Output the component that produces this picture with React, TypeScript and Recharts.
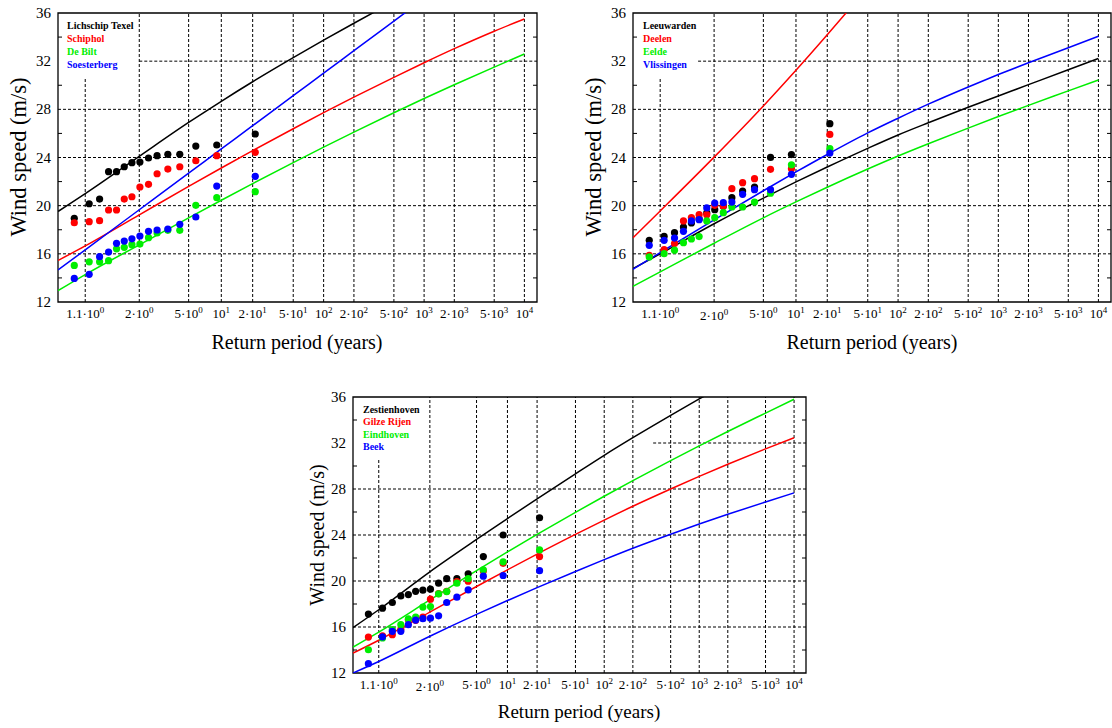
import React from "react";
import {
  ComposedChart,
  Line,
  Scatter,
  XAxis,
  YAxis,
  ReferenceLine,
  ReferenceArea,
} from "recharts";

// return periods (years) of the ranked annual maxima
const obsPeriods = [1.048, 1.126, 1.217, 1.326, 1.451, 1.602, 1.786, 2.02, 2.33, 2.71, 3.31, 4.18, 5.8, 9.06, 21.2];
const fitPeriods = [1.0115, 1.1, 2, 5, 10, 20, 50, 100, 200, 500, 1000, 2000, 5000, 10000];

const tickPeriods = [1.1, 2, 5, 10, 20, 50, 100, 200, 500, 1000, 2000, 5000, 10000];
const tickBase = ["1.1·10", "2·10", "5·10", "10", "2·10", "5·10", "10", "2·10", "5·10", "10", "2·10", "5·10", "10"];
const tickExp = ["0", "0", "0", "1", "1", "1", "2", "2", "2", "3", "3", "3", "4"];
const speedTicks = [12, 14, 16, 18, 20, 22, 24, 26, 28, 30, 32, 34, 36];
const gridSpeeds = [16, 20, 24, 28, 32];

const colors = ["#000000", "#ff0000", "#00ee00", "#0000ff"];

// top left panel
const names1 = ["Lichschip Texel", "Schiphol", "De Bilt", "Soesterberg"];
const texelObs = [18.95, 20.16, 20.55, 22.82, 22.82, 23.23, 23.57, 23.62, 23.96, 24.15, 24.26, 24.26, 24.95, 25.04, 25.95];
const schipholObs = [18.58, 18.67, 18.75, 19.64, 19.64, 20.55, 20.74, 21.55, 21.77, 22.65, 23.04, 23.23, 23.73, 24.15, 24.43];
const deBiltObs = [15.04, 15.34, 15.34, 15.43, 16.42, 16.54, 16.76, 16.81, 17.34, 17.73, 17.95, 17.95, 20.03, 20.66, 21.16];
const soesterbergObs = [13.96, 14.3, 15.76, 16.15, 16.87, 17.06, 17.25, 17.48, 17.87, 17.98, 18.06, 18.45, 19.06, 21.63, 22.44];
const texelFit = [19.52, 21.0, 24.1, 26.91, 28.67, 30.29, 32.29, 33.74, 35.15, 36.97, 38.32, 39.64, 41.33, 42.58];
const schipholFit = [15.45, 16.66, 19.24, 21.6, 23.13, 24.57, 26.39, 27.72, 29.01, 30.66, 31.87, 33.04, 34.49, 35.5];
const deBiltFit = [12.95, 14.28, 16.75, 18.99, 20.45, 21.83, 23.58, 24.86, 26.11, 27.72, 28.9, 30.04, 31.51, 32.6];
const soesterbergFit = [14.66, 16.33, 19.66, 22.7, 24.71, 26.64, 29.13, 31.01, 32.87, 35.33, 37.19, 39.05, 41.5, 43.36];

// top right panel
const names2 = ["Leeuwarden", "Deelen", "Eelde", "Vlissingen"];
const leeuwardenObs = [17.12, 17.45, 17.76, 18.23, 18.56, 18.9, 19.4, 19.67, 19.95, 20.66, 21.22, 21.55, 24.01, 24.24, 26.81];
const deelenObs = [15.88, 16.35, 16.85, 18.73, 19.0, 19.25, 19.25, 20.03, 19.97, 21.41, 21.91, 22.24, 23.02, 23.07, 25.92];
const eeldeObs = [15.74, 16.01, 16.3, 16.93, 17.23, 17.43, 18.73, 19.0, 19.42, 19.89, 19.89, 20.3, 21.03, 23.4, 24.73];
const vlissingenObs = [16.71, 17.12, 17.31, 17.87, 18.73, 18.84, 19.81, 20.22, 20.25, 20.3, 20.94, 21.33, 21.33, 22.6, 24.37];
const leeuwardenFit = [14.77, 16.0, 18.5, 20.63, 21.97, 23.21, 24.76, 25.87, 26.88, 28.17, 29.11, 30.05, 31.29, 32.22];
const deelenFit = [17.34, 19.56, 24.03, 28.28, 31.24, 34.19, 38.1, 41.1, 44.1, 48.1, 51.2, 54.3, 58.4, 61.5];
const eeldeFit = [13.3, 14.5, 16.88, 18.99, 20.31, 21.53, 23.04, 24.12, 25.14, 26.44, 27.4, 28.33, 29.53, 30.44];
const vlissingenFit = [14.72, 16.1, 18.82, 21.24, 22.8, 24.25, 26.04, 27.26, 28.43, 29.86, 30.89, 31.87, 33.11, 34.07];

// bottom panel
const names3 = ["Zestienhoven", "Gilze Rijen", "Eindhoven", "Beek"];
const zestienhovenObs = [17.12, 17.64, 18.13, 18.7, 18.82, 19.1, 19.2, 19.29, 19.81, 20.21, 20.21, 20.62, 22.12, 24.0, 25.5];
const gilzeRijenObs = [15.12, 15.24, 15.33, 15.8, 16.62, 16.58, 16.87, 18.42, 18.9, 19.1, 19.95, 19.98, 20.88, 21.54, 22.12];
const eindhovenObs = [14.02, 15.05, 15.77, 16.2, 16.7, 16.87, 17.73, 17.78, 18.88, 19.08, 19.81, 20.2, 20.97, 21.67, 22.7];
const beekObs = [12.81, 15.15, 15.62, 15.62, 16.2, 16.6, 16.72, 16.77, 16.97, 18.13, 18.59, 19.22, 20.42, 20.48, 20.9];
const zestienhovenFit = [15.95, 17.5, 20.8, 23.61, 25.43, 27.14, 29.32, 30.93, 32.46, 34.41, 35.83, 37.22, 39.01, 40.34];
const gilzeRijenFit = [13.73, 14.85, 17.3, 19.52, 20.97, 22.34, 24.05, 25.3, 26.5, 28.0, 29.1, 30.15, 31.49, 32.46];
const eindhovenFit = [14.25, 15.55, 18.35, 20.9, 22.53, 24.05, 25.97, 27.37, 28.73, 30.47, 31.75, 33.0, 34.6, 35.8];
const beekFit = [12.0, 13.0, 15.2, 17.1, 18.3, 19.42, 20.83, 21.86, 22.85, 24.07, 24.95, 25.8, 26.87, 27.66];

// Gumbel reduced variate, the x axis is linear in this
const gumbel = (T: number) => -Math.log(-Math.log(1 - 1 / T));
const toPoints = (periods: number[], vals: number[]) =>
  periods.map((T, i) => ({ g: gumbel(T), v: vals[i] }));

const FONT = "'Liberation Serif', 'Times New Roman', serif";

type PanelProps = {
  left: number;
  top: number;
  width: number;
  height: number;
  right: number;
  xAxisHeight: number;
  names: string[];
  obs: number[][];
  fits: number[][];
  grid32From: number;
  lowTicks: number[];
  legend: { x: number; y: number; step: number };
  yTitle: { x: number; y: number; size: number };
  xTitle: { x: number; y: number; size: number };
};

function Panel(p: PanelProps) {
  const plotW = p.width - p.right - 58;

  const xTick = (props: any) => {
    const { x, y, payload } = props;
    const i = tickPeriods.findIndex((T) => Math.abs(gumbel(T) - payload.value) < 1e-6);
    if (i < 0) return <g />;
    const dy = p.lowTicks.includes(i) ? 18 : 16;
    return (
      <text x={x} y={y + dy} textAnchor="middle" fontFamily={FONT} fontSize={13} fill="#000">
        {tickBase[i]}
        <tspan dy={-5} fontSize={9}>
          {tickExp[i]}
        </tspan>
      </text>
    );
  };

  const yTick = (props: any) => {
    const { x, y, payload } = props;
    const v = payload.value;
    const ax = x + 7;
    if (v % 4 === 0) {
      return (
        <text x={x} y={y + 5} textAnchor="end" fontFamily={FONT} fontSize={15} fill="#000">
          {v}
        </text>
      );
    }
    return (
      <g>
        <line x1={ax} y1={y} x2={ax + 4} y2={y} stroke="#000" />
        <line x1={ax + plotW - 4} y1={y} x2={ax + plotW} y2={y} stroke="#000" />
      </g>
    );
  };

  return (
    <>
      <div style={{ position: "absolute", left: p.left, top: p.top }}>
        <ComposedChart
          width={p.width}
          height={p.height}
          margin={{ top: 13, right: p.right, bottom: 0, left: 0 }}
        >
          <XAxis
            type="number"
            dataKey="g"
            domain={[-1.5, 9.5]}
            allowDataOverflow
            ticks={tickPeriods.map(gumbel)}
            interval={0}
            height={p.xAxisHeight}
            tickSize={0}
            tickMargin={0}
            axisLine={false}
            tickLine={false}
            tick={xTick}
          />
          <YAxis
            type="number"
            domain={[12, 36]}
            allowDataOverflow
            ticks={speedTicks}
            interval={0}
            width={58}
            tickSize={0}
            tickMargin={7}
            axisLine={false}
            tickLine={false}
            tick={yTick}
          />
          {tickPeriods.map((T, i) => (
            <ReferenceLine
              key={"v" + i}
              segment={[
                { x: gumbel(T), y: 12 },
                { x: gumbel(T), y: i === 0 ? 30.6 : 36 },
              ]}
              stroke="#000"
              strokeDasharray="3 2"
              ifOverflow="visible"
            />
          ))}
          {gridSpeeds.map((s) => (
            <ReferenceLine
              key={"h" + s}
              segment={[
                { x: s === 32 ? gumbel(p.grid32From) : -1.5, y: s },
                { x: 9.5, y: s },
              ]}
              stroke="#000"
              strokeDasharray="3 2"
              ifOverflow="visible"
            />
          ))}
          <ReferenceArea
            x1={-1.5}
            x2={9.5}
            y1={12}
            y2={36}
            fill="none"
            stroke="#000"
            strokeWidth={1.3}
            ifOverflow="visible"
          />
          {p.fits.map((f, i) => (
            <Line
              key={"f" + i}
              data={toPoints(fitPeriods, f)}
              dataKey="v"
              type="monotone"
              stroke={colors[i]}
              strokeWidth={1.5}
              dot={false}
              isAnimationActive={false}
            />
          ))}
          {p.obs.map((o, i) => (
            <Scatter
              key={"o" + i}
              data={toPoints(obsPeriods, o)}
              dataKey="v"
              fill={colors[i]}
              isAnimationActive={false}
              shape={(s: any) => <circle cx={s.cx} cy={s.cy} r={3.6} fill={colors[i]} />}
            />
          ))}
        </ComposedChart>
      </div>
      <div
        style={{
          position: "absolute",
          left: p.legend.x,
          top: p.legend.y,
          fontFamily: FONT,
          fontWeight: "bold",
          fontSize: 10,
          lineHeight: p.legend.step + "px",
          whiteSpace: "nowrap",
        }}
      >
        {p.names.map((n, i) => (
          <div key={n} style={{ color: colors[i] }}>
            {n}
          </div>
        ))}
      </div>
      <div
        style={{
          position: "absolute",
          left: p.yTitle.x,
          top: p.yTitle.y,
          transform: "translate(-50%, -50%) rotate(-90deg)",
          fontFamily: FONT,
          fontSize: p.yTitle.size,
          whiteSpace: "nowrap",
        }}
      >
        Wind speed (m/s)
      </div>
      <div
        style={{
          position: "absolute",
          left: p.xTitle.x,
          top: p.xTitle.y,
          transform: "translate(-50%, -50%)",
          fontFamily: FONT,
          fontSize: p.xTitle.size,
          whiteSpace: "nowrap",
        }}
      >
        Return period (years)
      </div>
    </>
  );
}

export default function App() {
  return (
    <div
      style={{
        position: "absolute",
        left: 0,
        top: 0,
        width: 1112,
        height: 728,
        background: "#fff",
        overflow: "hidden",
      }}
    >
      <Panel
        left={0}
        top={0}
        width={560}
        height={340}
        right={23}
        xAxisHeight={38}
        names={names1}
        obs={[texelObs, schipholObs, deBiltObs, soesterbergObs]}
        fits={[texelFit, schipholFit, deBiltFit, soesterbergFit]}
        grid32From={2}
        lowTicks={[]}
        legend={{ x: 67, y: 19, step: 13 }}
        yTitle={{ x: 19, y: 157, size: 22.5 }}
        xTitle={{ x: 297, y: 342, size: 20 }}
      />
      <Panel
        left={575}
        top={0}
        width={537}
        height={340}
        right={1}
        xAxisHeight={38}
        names={names2}
        obs={[leeuwardenObs, deelenObs, eeldeObs, vlissingenObs]}
        fits={[leeuwardenFit, deelenFit, eeldeFit, vlissingenFit]}
        grid32From={1.58}
        lowTicks={[1]}
        legend={{ x: 643, y: 19, step: 13 }}
        yTitle={{ x: 594, y: 157, size: 22.5 }}
        xTitle={{ x: 872, y: 342, size: 20 }}
      />
      <Panel
        left={295}
        top={384}
        width={521}
        height={320}
        right={10}
        xAxisHeight={31}
        names={names3}
        obs={[zestienhovenObs, gilzeRijenObs, eindhovenObs, beekObs]}
        fits={[zestienhovenFit, gilzeRijenFit, eindhovenFit, beekFit]}
        grid32From={327}
        lowTicks={[1]}
        legend={{ x: 363, y: 404, step: 12.4 }}
        yTitle={{ x: 317, y: 535, size: 20 }}
        xTitle={{ x: 579, y: 712, size: 19 }}
      />
    </div>
  );
}
